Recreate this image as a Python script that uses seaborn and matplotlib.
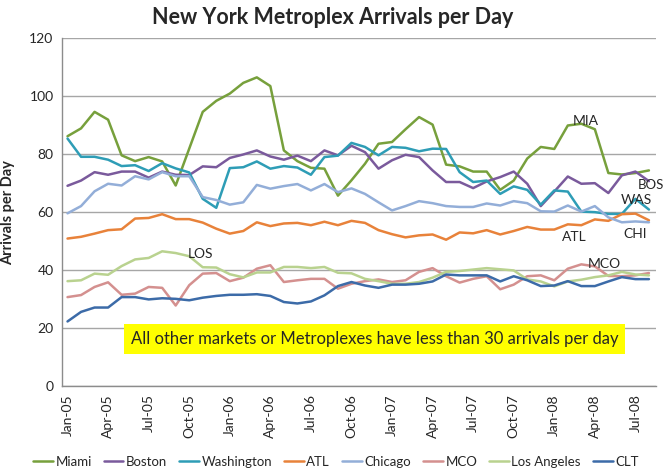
import numpy as np
import pandas as pd
import matplotlib
matplotlib.use("Agg")
import matplotlib.pyplot as plt
import seaborn as sns

months = pd.date_range("2005-01-01", "2008-08-01", freq="MS")
month_labels = [d.strftime("%b-%y") for d in months]
tick_labels = ["Jan-05", "Apr-05", "Jul-05", "Oct-05", "Jan-06", "Apr-06", "Jul-06",
               "Oct-06", "Jan-07", "Apr-07", "Jul-07", "Oct-07", "Jan-08", "Apr-08", "Jul-08"]

miami = [86.2, 88.9, 94.6, 91.9, 79.6, 77.6, 79.0, 77.5, 69.2, 81.9, 94.6, 98.4, 100.9, 104.6,
         106.5, 103.5, 81.3, 77.6, 75.3, 75.0, 65.7, 71.0, 76.7, 83.6, 84.2, 88.6, 92.8, 90.2,
         76.4, 75.8, 74.0, 74.0, 67.7, 70.9, 78.5, 82.5, 81.8, 89.9, 90.5, 88.6, 73.5, 73.0,
         73.5, 74.4]
boston = [69.1, 70.9, 73.8, 72.9, 74.0, 74.0, 71.9, 74.0, 72.9, 72.8, 75.8, 75.5, 78.7, 79.9,
          81.3, 79.2, 78.1, 79.5, 77.6, 81.3, 79.6, 82.9, 80.7, 75.0, 77.9, 79.8, 79.0, 74.4,
          70.4, 70.4, 68.3, 70.6, 72.1, 74.0, 69.8, 62.1, 67.1, 72.3, 69.8, 70.0, 66.6, 72.7,
          74.0, 70.7]
washington = [85.4, 79.1, 79.1, 78.1, 75.9, 76.2, 74.2, 76.9, 75.1, 73.7, 64.6, 61.5, 75.2, 75.5,
              77.5, 75.0, 75.9, 75.4, 72.9, 79.0, 79.5, 83.9, 82.5, 79.6, 82.5, 82.2, 81.0, 81.9,
              81.8, 73.8, 70.4, 70.9, 66.3, 68.9, 67.7, 62.6, 67.5, 67.1, 60.2, 60.0, 59.4, 59.4,
              64.6, 60.9]
atl = [50.9, 51.5, 52.6, 53.8, 54.1, 57.8, 58.0, 59.3, 57.6, 57.6, 56.4, 54.3, 52.6, 53.5,
       56.5, 55.2, 56.1, 56.3, 55.5, 56.7, 55.5, 57.0, 56.3, 53.8, 52.4, 51.3, 52.0, 52.3,
       50.5, 53.0, 52.7, 53.8, 52.3, 53.5, 54.9, 54.0, 54.0, 55.8, 55.5, 57.5, 57.0, 59.3,
       59.5, 57.2]
chicago = [59.6, 62.1, 67.2, 69.8, 69.2, 72.4, 71.3, 73.8, 72.4, 72.4, 65.2, 64.2, 62.6, 63.4,
           69.4, 68.1, 69.0, 69.7, 67.5, 69.7, 66.9, 68.2, 66.3, 63.4, 60.6, 62.1, 63.8, 63.1,
           62.1, 61.8, 61.8, 63.0, 62.3, 63.8, 63.1, 60.3, 60.2, 62.3, 60.2, 62.1, 58.2, 56.5,
           56.8, 56.5]
mco = [30.7, 31.4, 34.2, 35.8, 31.5, 31.9, 34.2, 33.9, 27.8, 34.8, 38.8, 39.0, 36.2, 37.4,
       40.5, 41.7, 35.9, 36.5, 37.0, 37.0, 33.6, 35.3, 36.2, 36.8, 35.9, 36.5, 39.4, 40.7,
       37.9, 35.7, 37.0, 37.9, 33.4, 35.0, 37.9, 38.2, 36.5, 40.5, 42.0, 41.3, 38.0, 37.9,
       38.2, 39.0]
los_angeles = [36.2, 36.5, 38.8, 38.4, 41.4, 43.7, 44.2, 46.5, 45.9, 44.8, 41.0, 40.9, 38.6, 37.5,
               39.2, 39.2, 41.1, 41.1, 40.7, 41.1, 39.1, 38.9, 37.0, 36.2, 35.3, 35.3, 35.9, 37.4,
               39.4, 39.7, 40.2, 40.7, 40.3, 39.9, 36.8, 36.1, 34.4, 36.1, 36.7, 37.6, 38.2, 39.4,
               38.5, 38.2]
clt = [22.3, 25.6, 27.1, 27.1, 30.7, 30.7, 29.9, 30.3, 30.1, 29.6, 30.5, 31.1, 31.5, 31.5,
       31.7, 31.1, 29.0, 28.5, 29.2, 31.3, 34.5, 35.9, 34.7, 33.9, 35.0, 35.0, 35.3, 36.1,
       38.5, 38.2, 38.2, 38.2, 36.1, 37.9, 36.5, 34.5, 34.7, 36.2, 34.5, 34.5, 36.1, 37.6,
       36.9, 36.9]

series_names = ["Miami", "Boston", "Washington", "ATL", "Chicago", "MCO", "Los Angeles", "CLT"]
series_values = [miami, boston, washington, atl, chicago, mco, los_angeles, clt]
colors = ["#77A03C", "#7A5A9C", "#2E9DB6", "#E8823A", "#93AED8", "#D4908F", "#B9D28F", "#3C6BA8"]

rows = []
for name, vals in zip(series_names, series_values):
    for i, v in enumerate(vals):
        rows.append({"idx": i, "month": month_labels[i], "value": v, "series": name})
df = pd.DataFrame(rows)

sns.set_style("white")
plt.rcParams["font.family"] = ["Lato", "DejaVu Sans"]

fig = plt.figure(figsize=(6.65, 4.72), dpi=100)
ax = fig.add_axes([0.093, 0.182, 0.893, 0.737])

sns.lineplot(data=df, x="idx", y="value", hue="series", hue_order=series_names,
             palette=colors, linewidth=1.8, ax=ax, legend=True)

ax.set_xlim(-0.42, 43.5)
ax.set_ylim(0, 120)
ax.set_yticks(np.arange(0, 121, 20))
ax.set_yticklabels([str(v) for v in range(0, 121, 20)], fontsize=10)
tick_pos = [month_labels.index(t) for t in tick_labels]
ax.set_xticks(tick_pos)
ax.set_xticklabels(tick_labels, rotation=90, fontsize=10)
ax.tick_params(axis="both", length=0, pad=6)
ax.grid(axis="y", color="#A6A6A6", linewidth=1)
ax.set_axisbelow(True)
for s in ["top", "right"]:
    ax.spines[s].set_visible(False)
for s in ["left", "bottom"]:
    ax.spines[s].set_color("#8C8C8C")
    ax.spines[s].set_linewidth(1)

ax.set_xlabel("")
ax.set_ylabel("Arrivals per Day", fontsize=10.5, fontweight="bold", labelpad=10)
fig.text(0.5, 0.962, "New York Metroplex Arrivals per Day", ha="center", va="center",
         fontsize=15.5, fontweight="bold")

# series labels
ax.text(38.3, 91.5, "MIA", fontsize=10, ha="center", va="center")
ax.text(42.2, 69.2, "BOS", fontsize=9.5, ha="left", va="center", clip_on=False)
ax.text(42.1, 64.2, "WAS", fontsize=10, ha="center", va="center")
ax.text(42.0, 52.6, "CHI", fontsize=10, ha="center", va="center")
ax.text(37.5, 51.6, "ATL", fontsize=10, ha="center", va="center")
ax.text(39.7, 42.1, "MCO", fontsize=10, ha="center", va="center")
ax.text(9.8, 45.7, "LOS", fontsize=10, ha="center", va="center")

ax.text(22.7, 16.3, "All other markets or Metroplexes have less than 30 arrivals per day",
        fontsize=12, ha="center", va="center",
        bbox=dict(facecolor="#FFFF00", edgecolor="none", pad=5))

handles, labels = ax.get_legend_handles_labels()
ax.legend_.remove()
fig.legend(handles, labels, loc="center", bbox_to_anchor=(0.505, 0.022), ncol=8,
           frameon=False, fontsize=9.5, handlelength=1.5, handletextpad=0.2,
           columnspacing=0.9)

fig.savefig("out.png", dpi=100)
